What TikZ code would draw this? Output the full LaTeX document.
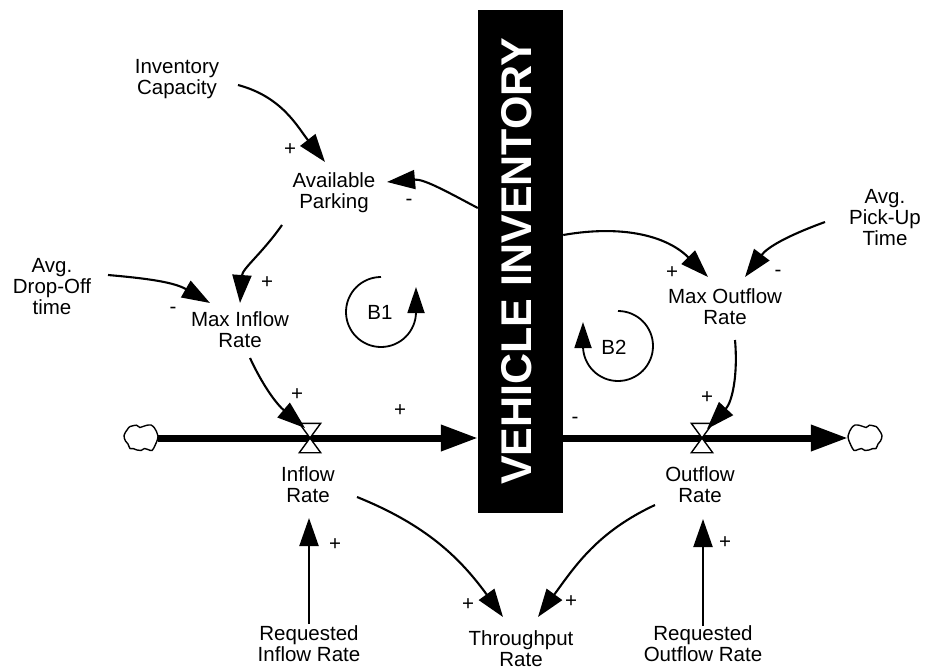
\documentclass[tikz,border=0pt]{standalone}
\usepackage{fontspec}
\setmainfont{Liberation Sans}
\usetikzlibrary{arrows.meta,calc}

\begin{document}
\begin{tikzpicture}[x=1pt,y=1pt,
  lbl/.style={align=center, font=\fontsize{20.5}{21}\selectfont, inner sep=0pt},
  sgn/.style={font=\fontsize{20.5}{21}\selectfont, inner sep=0pt},
  link/.style={line width=2.1pt, -{Triangle[length=28pt,width=19pt]}},
  flow/.style={line width=7pt, -{Triangle[length=37pt,width=25pt]}},
  valve/.style={minimum width=21pt, minimum height=29pt, inner sep=0pt},
  valveline/.style={draw=black, fill=white, line width=1.4pt, line join=miter},
  cloudnode/.style={minimum width=34pt, minimum height=27pt, inner sep=0pt},
  cloudline/.style={draw=black, fill=white, line width=1.4pt},
  loopline/.style={line width=1.8pt, -{Triangle[length=26pt,width=17pt]}},
  stockbox/.style={fill=black, text=white, minimum width=85pt, minimum height=503pt,
    inner sep=0pt, font=\fontsize{43}{43}\selectfont\bfseries}
]
\useasboundingbox (0,0) rectangle (925,-671);

% stock
\node[stockbox] (stock) at (520.5,-261.5)
  {\rotatebox{90}{\rule[-9pt]{0pt}{9pt}VEHICLE INVENTORY}};

% sources, sinks and valves
\node[cloudnode] (cloudL) at (141,-438) {};
\node[cloudnode] (cloudR) at (865,-438) {};
\node[valve] (vin)  at (310,-438) {};
\node[valve] (vout) at (702,-438) {};

% material flows
\draw[flow] (cloudL.east) -- (stock.west |- cloudL.east);
\draw[flow] (stock.east |- cloudR.west) -- (cloudR.west);

\draw[valveline] (vin.north west) -- (vin.north east) -- (vin.south west) -- (vin.south east) -- cycle;
\draw[valveline] (vout.north west) -- (vout.north east) -- (vout.south west) -- (vout.south east) -- cycle;

\draw[cloudline, shift={(cloudL)}] plot[smooth cycle, tension=0.6] coordinates {
  (-17,2.5) (-14,8) (-11,11.5) (-7,12.5) (-4.5,12.8) (-1,10.5) (2,11.5) (5,12.5)
  (10,13) (13.5,10) (15.5,6.5) (17,2) (16,-3) (14,-7.5) (11,-12.5) (7,-11.5)
  (3.5,-10.5) (0,-12.5) (-4,-12) (-8,-10.5) (-11,-10.5) (-13,-6) (-15.5,-3)};
\draw[cloudline, shift={(cloudR)}, xscale=-1] plot[smooth cycle, tension=0.6] coordinates {
  (-17,2.5) (-14,8) (-11,11.5) (-7,12.5) (-4.5,12.8) (-1,10.5) (2,11.5) (5,12.5)
  (10,13) (13.5,10) (15.5,6.5) (17,2) (16,-3) (14,-7.5) (11,-12.5) (7,-11.5)
  (3.5,-10.5) (0,-12.5) (-4,-12) (-8,-10.5) (-11,-10.5) (-13,-6) (-15.5,-3)};

% variables
\node[lbl] (invcap)  at (177,-79)  {Inventory\\Capacity};
\node[lbl] (avail)   at (334,-193) {Available\\Parking};
\node[lbl] (maxin)   at (240,-330) {Max Inflow\\Rate};
\node[lbl] (dropoff) at (52,-287)  {Avg.\\Drop-Off\\time};
\node[lbl] (maxout)  at (725,-307) {Max Outflow\\Rate};
\node[lbl] (pickup)  at (885,-218) {Avg.\\Pick-Up\\Time};
\node[lbl] (inrate)  at (308,-485) {Inflow\\Rate};
\node[lbl] (outrate) at (700,-485) {Outflow\\Rate};
\node[lbl] (thru)    at (521,-649) {Throughput\\Rate};
\node[lbl] (reqin)   at (309,-644) {Requested\\Inflow Rate};
\node[lbl] (reqout)  at (703,-644) {Requested\\Outflow Rate};

% causal links
\draw[link] ($(invcap)+(61,-6)$) to[out=-15,in=128] ($(avail)+(-9,31)$);
\draw[link] ([yshift=53.5pt]stock.west) to[out=152,in=5] ($(avail)+(53,11)$);
\draw[link] ($(avail)+(-52,-32)$) to[out=235,in=86] ($(maxin)+(0,27)$);
\draw[link] ($(dropoff)+(56,12)$) to[out=-5,in=150] ($(maxin)+(-30,27)$);
\draw[link] ($(maxin)+(10,-28)$) to[out=-65,in=140] ($(vin)+(-5,10)$);
\draw[link] ([yshift=26.5pt]stock.east) to[out=10,in=135] ($(maxout)+(-17,30)$);
\draw[link] ($(pickup)+(-60,-4)$) to[out=200,in=53] ($(maxout)+(20,30)$);
\draw[link] ($(maxout)+(10,-33)$) to[out=-85,in=47] ($(vout)+(5,9)$);
\draw[link] ($(inrate)+(49,-12)$) to[out=-22,in=126] ($(thru)+(-18,32)$);
\draw[link] ($(outrate)+(-45,-20)$) to[out=205,in=54] ($(thru)+(17,32)$);
\draw[link] ($(reqin)+(0,20)$) -- ($(inrate)+(1,-33)$);
\draw[link] ($(reqout)+(0,18)$) -- ($(outrate)+(3,-34)$);

% link polarities
\node[sgn] (s1)  at (290,-150) {+};
\node[sgn] (s2)  at (409,-202) {-};
\node[sgn] (s3)  at (267,-283) {+};
\node[sgn] (s4)  at (173,-310) {-};
\node[sgn] (s5)  at (297,-395) {+};
\node[sgn] (s6)  at (400,-411) {+};
\node[sgn] (s7)  at (575,-420) {-};
\node[sgn] (s8)  at (707,-398) {+};
\node[sgn] (s9)  at (672,-273) {+};
\node[sgn] (s10) at (778,-273) {-};
\node[sgn] (s11) at (335,-545) {+};
\node[sgn] (s12) at (468,-605) {+};
\node[sgn] (s13) at (571,-602) {+};
\node[sgn] (s14) at (725,-543) {+};

% feedback loop markers
\node[lbl] (b1) at (380,-312) {B1};
\node[lbl] (b2) at (614,-347) {B2};
\draw[loopline] ($(b1)+(1,35)$) arc[start angle=90, end angle=360, radius=35] -- ++(0,25);
\draw[loopline] ($(b2)+(4,36)$) arc[start angle=90, end angle=-180, radius=35] -- ++(0,24);
\end{tikzpicture}
\end{document}
